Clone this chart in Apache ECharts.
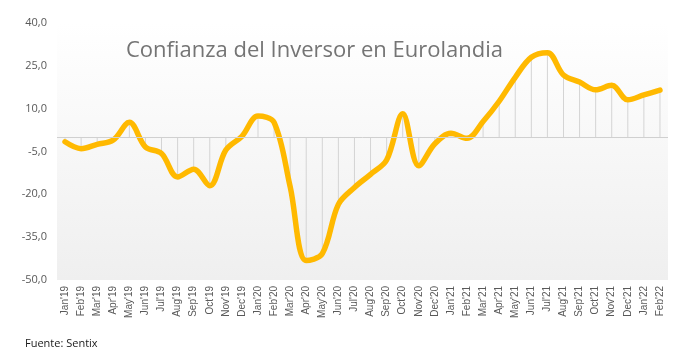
<!DOCTYPE html>
<html>
<head>
<meta charset="utf-8">
<script src="https://cdn.jsdelivr.net/npm/echarts@6/dist/echarts.min.js"></script>
<style>
html,body{margin:0;padding:0;background:#fff;}
#chart{width:683px;height:361px;}
</style>
</head>
<body>
<div id="chart"></div>
<script>
var categories = ["Jan'19","Feb'19","Mar'19","Apr'19","May'19","Jun'19","Jul'19","Aug'19","Sep'19","Oct'19","Nov'19","Dec'19",
  "Jan'20","Feb'20","Mar'20","Apr'20","May'20","Jun'20","Jul'20","Aug'20","Sep'20","Oct'20","Nov'20","Dec'20",
  "Jan'21","Feb'21","Mar'21","Apr'21","May'21","Jun'21","Jul'21","Aug'21","Sep'21","Oct'21","Nov'21","Dec'21",
  "Jan'22","Feb'22"];
var confianza = [-1.6, -4.0, -2.5, -1.0, 5.2, -3.4, -5.7, -13.9, -11.2, -17.0, -4.5, 0.3,
  7.4, 5.2, -17.3, -43.2, -40.8, -23.5, -17.6, -13.0, -8.0, 8.2, -10.0, -2.3,
  1.4, -0.4, 5.5, 12.6, 21.0, 28.0, 29.6, 21.8, 19.3, 16.6, 18.2, 13.1,
  14.8, 16.5];
var yTicks = {min: -50, max: 40, step: 15};
var titleText = "Confianza del Inversor en Eurolandia";
var sourceText = "Fuente: Sentix";

var chart = echarts.init(document.getElementById('chart'), null, {renderer: 'canvas'});
chart.setOption({
  animation: false,
  backgroundColor: '#ffffff',
  grid: {
    left: 57, right: 15, top: 23, bottom: 81,
    show: true, borderWidth: 0,
    backgroundColor: new echarts.graphic.LinearGradient(0, 0, 0, 1, [
      {offset: 0, color: '#ffffff'},
      {offset: 1, color: '#efefef'}
    ])
  },
  graphic: [
    {type: 'text', left: 126, top: 40, silent: true,
      style: {text: titleText, fill: '#747474', font: '22px "Open Sans", sans-serif'}},
    {type: 'text', left: 25, top: 338, silent: true,
      style: {text: sourceText, fill: '#1a1a1a', font: '11px "Open Sans", sans-serif'}}
  ],
  xAxis: {
    type: 'category', data: categories, boundaryGap: true,
    axisLine: {show: false, onZero: false},
    axisTick: {show: false},
    splitLine: {show: false},
    axisLabel: {interval: 0, rotate: 90, fontSize: 10, color: '#595959', margin: 6,
      fontFamily: '"Liberation Sans", sans-serif'}
  },
  yAxis: {
    type: 'value', min: yTicks.min, max: yTicks.max, interval: yTicks.step,
    axisLine: {show: false}, axisTick: {show: false}, splitLine: {show: false},
    axisLabel: {fontSize: 11, color: '#595959', margin: 10, fontFamily: '"Open Sans", sans-serif',
      formatter: function (v) { return v.toFixed(1).replace('.', ','); }}
  },
  series: [
    {
      type: 'bar', data: confianza, barWidth: 1, silent: true,
      itemStyle: {color: '#d4d4d4'},
      markLine: {silent: true, symbol: 'none', label: {show: false},
        lineStyle: {color: '#d0d0d0', width: 1, type: 'solid'},
        data: [{yAxis: 0}]}
    },
    {
      type: 'line', data: confianza, smooth: 0.35, showSymbol: false,
      lineStyle: {color: '#ffb900', width: 5.5, cap: 'round', join: 'round'},
      itemStyle: {color: '#ffb900'}
    }
  ]
});
</script>
</body>
</html>
